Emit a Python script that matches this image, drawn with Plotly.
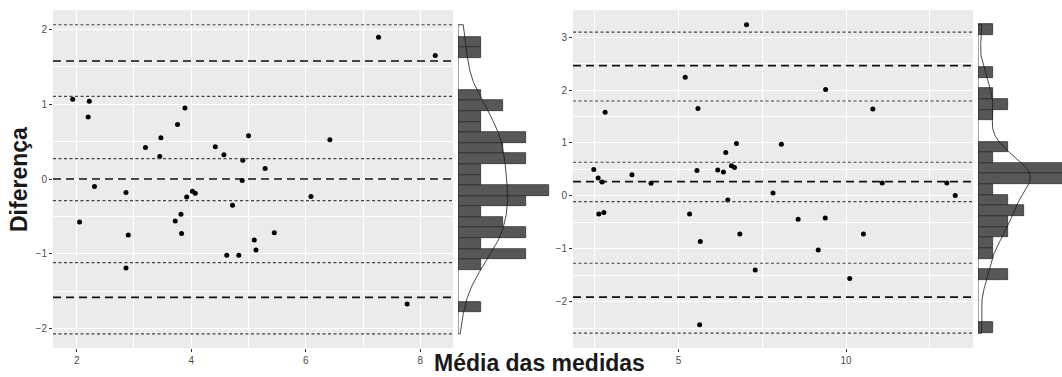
import numpy as np
import plotly.graph_objects as go

# ---------------- data: left panel ----------------
left_mean = [1.93, 2.22, 2.20, 2.31, 3.20, 3.45, 3.47, 3.76, 3.89, 4.42, 4.57, 4.90,
             5.00, 4.89, 5.29, 2.05, 2.86, 2.90, 2.86, 3.72, 3.82, 3.83, 3.92, 4.02,
             4.07, 4.62, 4.72, 4.83, 5.10, 5.13, 7.27, 8.26, 6.42, 6.09, 5.45, 7.77]
left_diff = [1.065, 1.04, 0.83, -0.10, 0.42, 0.30, 0.55, 0.73, 0.95, 0.43, 0.325, 0.25,
             0.58, -0.02, 0.14, -0.575, -0.18, -0.75, -1.19, -0.56, -0.47, -0.73, -0.24, -0.165,
             -0.19, -1.02, -0.35, -1.02, -0.815, -0.95, 1.895, 1.65, 0.525, -0.235, -0.72, -1.67]
left_bias = [0.0]
left_loa = [1.578, -1.582]
left_ci = [0.272, -0.29, 1.106, 2.063, -1.119, -2.07]

# ---------------- data: right panel ----------------
right_mean = [2.47, 2.60, 2.72, 2.81, 3.61, 4.18, 5.20, 5.55, 5.58, 6.17, 6.34, 6.41,
              6.58, 6.67, 6.73, 7.03, 8.07, 9.39, 10.80, 11.08, 13.01, 2.62, 2.77, 5.33,
              5.65, 6.47, 6.83, 7.29, 7.82, 8.57, 5.63, 13.26, 9.38, 10.52, 9.17, 10.11]
right_diff = [0.50, 0.34, 0.264, 1.58, 0.40, 0.24, 2.24, 0.48, 1.65, 0.49, 0.45, 0.82,
              0.57, 0.535, 0.99, 3.23, 0.975, 2.01, 1.64, 0.245, 0.245, -0.34, -0.31, -0.34,
              -0.86, -0.075, -0.72, -1.40, 0.057, -0.44, -2.43, 0.01, -0.415, -0.72, -1.02, -1.56]
right_bias = [0.27]
right_loa = [2.459, -1.91]
right_ci = [0.636, -0.107, 1.792, 3.094, -1.27, -2.59]

x_ticks_left = [2, 4, 6, 8]
x_ticks_right = [5, 10]

# histogram bin settings
left_bins = dict(start=-1.782, end=1.95, size=0.1417)
right_bins = dict(start=-2.589, end=3.30, size=0.2009)

W, H = 1062, 377
FONT = "Liberation Sans, Arial, sans-serif"


def px_x(a, b):
    return [a / W, b / W]


def kde_curve(vals, lo, hi, binw):
    v = np.asarray(vals, dtype=float)
    n = len(v)
    sd = v.std(ddof=1)
    q75, q25 = np.percentile(v, [75, 25])
    h = 0.9 * min(sd, (q75 - q25) / 1.34) * n ** (-0.2)
    grid = np.linspace(lo, hi, 300)
    dens = np.exp(-0.5 * ((grid[:, None] - v[None, :]) / h) ** 2).sum(axis=1) / (n * h * np.sqrt(2 * np.pi))
    counts = dens * n * binw
    xs = np.concatenate([[0], counts, [0, 0]])
    ys = np.concatenate([[lo], grid, [hi, lo]])
    return xs, ys


fig = go.Figure()

panels = [
    dict(mx="x", my="y", hx="x2", hy="y2", mean=left_mean, diff=left_diff, bins=left_bins,
         bias=left_bias, loa=left_loa, ci=left_ci),
    dict(mx="x3", my="y3", hx="x4", hy="y4", mean=right_mean, diff=right_diff, bins=right_bins,
         bias=right_bias, loa=right_loa, ci=right_ci),
]

shapes = []
for p in panels:
    shapes.append(dict(type="rect", xref=p["mx"] + " domain", yref=p["my"] + " domain",
                       x0=0, x1=1, y0=0, y1=1, fillcolor="#EBEBEB", line_width=0, layer="below"))
    for v in p["ci"]:
        shapes.append(dict(type="line", xref=p["mx"] + " domain", yref=p["my"], x0=0, x1=1, y0=v, y1=v,
                           line=dict(color="#444444", width=1.2, dash="3px,2.5px"), layer="above"))
    for v in p["bias"] + p["loa"]:
        shapes.append(dict(type="line", xref=p["mx"] + " domain", yref=p["my"], x0=0, x1=1, y0=v, y1=v,
                           line=dict(color="#111111", width=1.7, dash="8px,5px"), layer="above"))

    fig.add_trace(go.Scatter(x=p["mean"], y=p["diff"], mode="markers", xaxis=p["mx"], yaxis=p["my"],
                             marker=dict(color="black", size=5), showlegend=False))
    fig.add_trace(go.Histogram(y=p["diff"], ybins=p["bins"], xaxis=p["hx"], yaxis=p["hy"],
                               marker=dict(color="#575757", line=dict(color="#222222", width=0.7)),
                               showlegend=False))
    allv = p["diff"] + p["ci"] + p["loa"] + p["bias"]
    kx, ky = kde_curve(p["diff"], min(allv), max(allv), p["bins"]["size"])
    fig.add_trace(go.Scatter(x=kx, y=ky, mode="lines", xaxis=p["hx"], yaxis=p["hy"],
                             line=dict(color="#1a1a1a", width=0.8), showlegend=False))

tickfont = dict(family=FONT, size=10, color="#4D4D4D")
ydom = [1 - 348 / H, 1 - 10 / H]

common_main = dict(showline=False, zeroline=False, gridcolor="white", gridwidth=1.1,
                   ticks="outside", ticklen=3, tickcolor="#333333", tickwidth=1,
                   tickfont=tickfont)

fig.update_layout(
    width=W, height=H, autosize=False,
    margin=dict(l=0, r=0, t=0, b=0),
    paper_bgcolor="white", plot_bgcolor="rgba(0,0,0,0)",
    showlegend=False,
    bargap=0,
    shapes=shapes,
    xaxis=dict(domain=px_x(53, 453), anchor="y", range=[1.586, 8.57], tickvals=x_ticks_left,
               minor=dict(dtick=1, tick0=1, showgrid=True, gridcolor="white", gridwidth=0.5, ticks=""),
               **common_main),
    yaxis=dict(domain=ydom, anchor="x", range=[-2.26, 2.26], dtick=1,
               minor=dict(dtick=0.5, showgrid=True, gridcolor="white", gridwidth=0.5, ticks=""),
               **common_main),
    xaxis2=dict(domain=px_x(458, 553), anchor="y2", range=[0, 95 / 22.7], visible=False),
    yaxis2=dict(domain=ydom, anchor="x2", matches="y", visible=False),
    xaxis3=dict(domain=px_x(573, 973), anchor="y3", range=[1.85, 13.79], tickvals=x_ticks_right,
                minor=dict(dtick=2.5, tick0=0, showgrid=True, gridcolor="white", gridwidth=0.5, ticks=""),
                **common_main),
    yaxis3=dict(domain=ydom, anchor="x3", range=[-2.87, 3.51], dtick=1,
                minor=dict(dtick=0.5, showgrid=True, gridcolor="white", gridwidth=0.5, ticks=""),
                **common_main),
    xaxis4=dict(domain=px_x(978, 1062), anchor="y4", range=[0, 84 / 15.2], visible=False),
    yaxis4=dict(domain=ydom, anchor="x4", matches="y3", visible=False),
    annotations=[
        dict(text="<b>Diferença</b>", xref="paper", yref="paper", x=19 / W, y=1 - 180 / H,
             textangle=-90, showarrow=False, xanchor="center", yanchor="middle",
             font=dict(family=FONT, size=23, color="#1a1a1a")),
        dict(text="<b>Média das medidas</b>", xref="paper", yref="paper", x=539.5 / W, y=0,
             showarrow=False, xanchor="center", yanchor="bottom", borderpad=0,
             font=dict(family=FONT, size=23, color="#1a1a1a")),
    ],
)

fig.write_html(
    "out.html",
    config={"displayModeBar": False},
    post_script="document.body.style.margin='0px';document.body.style.overflow='hidden';",
)
